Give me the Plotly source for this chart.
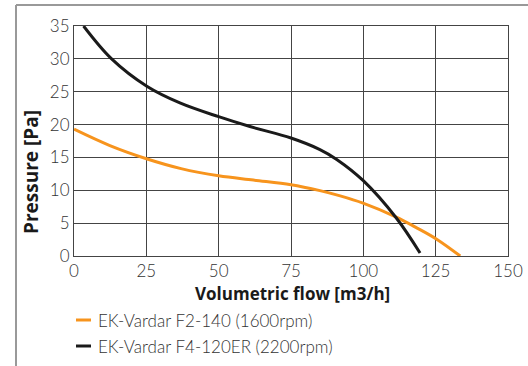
import plotly.graph_objects as go

# Series data
names = ["EK-Vardar F2-140 (1600rpm)", "EK-Vardar F4-120ER (2200rpm)"]
colors = ["#F7941D", "#1A1A1A"]

f2_flow = [0, 12.4, 25.3, 37, 50, 62, 75, 85, 92, 99.9, 111.4, 118, 125.2, 133.5]
f2_pres = [19.3, 16.8, 14.76, 13.3, 12.2, 11.55, 10.85, 9.95, 9.15, 8.05, 5.93, 4.4, 2.6, 0]

f4_flow = [3.3, 13.0, 25.3, 36.6, 50, 60.8, 75, 85, 90.8, 99.9, 111.4, 119.6]
f4_pres = [35, 30, 25.8, 23.3, 21.2, 19.7, 17.96, 16.2, 14.7, 11.5, 5.78, 0.45]

x_ticks = [0, 25, 50, 75, 100, 125, 150]
y_ticks = [0, 5, 10, 15, 20, 25, 30, 35]

x_title = "Volumetric flow [m3/h]"
y_title = "Pressure [Pa]"

W, H = 528, 366
L, R, T, B = 74, 20, 26, 110
pw, ph = W - L - R, H - T - B

def px_x(p):
    return (p - L) / pw

def px_y(p):
    return (H - B - p) / ph

fig = go.Figure()
for xs, ys, nm, c in [(f2_flow, f2_pres, names[0], colors[0]), (f4_flow, f4_pres, names[1], colors[1])]:
    fig.add_trace(go.Scatter(x=xs, y=ys, mode="lines", name=nm,
                             line=dict(color=c, width=3, shape="spline", smoothing=1.0),
                             showlegend=False, hoverinfo="skip"))

tick_font = dict(family="Lato", size=17, color="#333333", weight=300)

fig.update_layout(
    width=W, height=H,
    margin=dict(l=L, r=R, t=T, b=B),
    paper_bgcolor="white", plot_bgcolor="white",
    xaxis=dict(range=[0, 150], tickvals=x_ticks, showgrid=True, gridcolor="#444444", gridwidth=1,
               showline=True, linecolor="#444444", linewidth=1, mirror=True, zeroline=False,
               tickfont=tick_font, ticks="", ticklen=0, automargin=False),
    yaxis=dict(range=[0, 35], tickvals=y_ticks, showgrid=True, gridcolor="#444444", gridwidth=1,
               showline=True, linecolor="#444444", linewidth=1, mirror=True, zeroline=False,
               tickfont=tick_font, ticks="", ticklen=0, automargin=False),
    showlegend=False,
)

# frame lines
fig.add_shape(type="line", xref="paper", yref="paper", x0=px_x(16), x1=px_x(W + 5), y0=px_y(5), y1=px_y(5),
              line=dict(color="#999999", width=2))
fig.add_shape(type="line", xref="paper", yref="paper", x0=px_x(16), x1=px_x(16), y0=px_y(5), y1=px_y(H + 5),
              line=dict(color="#999999", width=2))

# axis titles
fig.add_annotation(text=x_title, xref="paper", yref="paper", x=px_x(292), y=px_y(293), showarrow=False,
                   font=dict(family="Open Sans", size=17, color="#1a1a1a", weight=700),
                   xanchor="center", yanchor="middle")
fig.add_annotation(text=y_title, xref="paper", yref="paper", x=px_x(31), y=px_y(172), showarrow=False,
                   textangle=-90, font=dict(family="Open Sans", size=19, color="#1a1a1a", weight=700),
                   xanchor="center", yanchor="middle")

# legend (manual)
for i, (nm, c) in enumerate(zip(names, colors)):
    yc = 320 + 26 * i
    fig.add_shape(type="line", xref="paper", yref="paper", x0=px_x(76), x1=px_x(91), y0=px_y(yc), y1=px_y(yc),
                  line=dict(color=c, width=3))
    fig.add_annotation(text=nm, xref="paper", yref="paper", x=px_x(96), y=px_y(yc), showarrow=False,
                       xanchor="left", yanchor="middle",
                       font=dict(family="Lato", size=17, color="#333333", weight=300))

fig.write_html("out.html", config={"displayModeBar": False},
               post_script="document.body.style.margin='0';document.body.style.overflow='hidden';")
